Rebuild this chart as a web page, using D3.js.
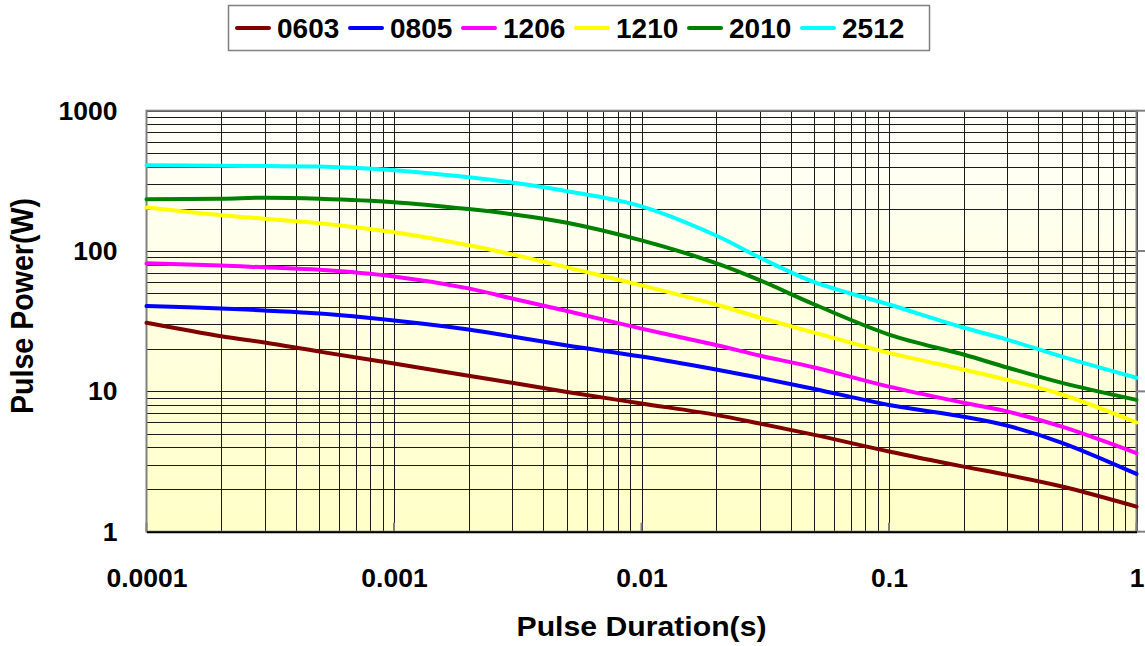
<!DOCTYPE html>
<html>
<head>
<meta charset="utf-8">
<script src="https://cdn.jsdelivr.net/npm/d3@7"></script>
<style>
  body { margin: 0; background: #fff; }
  text { font-family: "Liberation Sans", Arial, sans-serif; font-weight: bold; fill: #000; }
</style>
</head>
<body>
<svg id="chart" width="1145" height="646"></svg>
<script>
// pulse duration (s) at which the curves were read
const durations = [1e-4, 2e-4, 3e-4, 5e-4, 1e-3, 2e-3, 3e-3, 5e-3, 0.01, 0.02, 0.03, 0.05, 0.1, 0.2, 0.3, 0.5, 1];

// pulse power (W) per chip size
const p0603 = [30.8, 24.7, 22.3, 19.2, 15.8, 12.9, 11.5, 9.9, 8.2, 6.8, 5.9, 4.9, 3.73, 2.91, 2.54, 2.10, 1.51];
const p0805 = [40.5, 39, 37.7, 35.9, 32.0, 27.6, 24.6, 21.2, 17.7, 14.3, 12.5, 10.4, 8.0, 6.6, 5.7, 4.3, 2.58];
const p1206 = [81.7, 79, 76.5, 73.5, 65.9, 54.2, 45.9, 37.4, 28.0, 21.4, 18.0, 14.8, 10.8, 8.3, 7.2, 5.6, 3.63];
const p1210 = [204, 180, 170, 158, 136, 110, 94.7, 76.5, 56.9, 41.6, 33.6, 26.2, 18.8, 14.3, 12.1, 9.5, 6.0];
const p2010 = [234, 236, 240, 236, 223, 199, 183, 159, 119, 82, 62, 41.6, 25.4, 18.3, 14.8, 11.5, 8.7];
const p2512 = [409, 406, 403, 400, 377, 336, 308, 267, 208, 129, 90, 60, 41.6, 28.5, 23.4, 17.7, 12.5];

const seriesNames = ['0603', '0805', '1206', '1210', '2010', '2512'];
const seriesColors = ['#800000', '#0000ff', '#ff00ff', '#ffff00', '#008000', '#00ffff'];
const seriesValues = [p0603, p0805, p1206, p1210, p2010, p2512];

const xTicks = [1e-4, 1e-3, 1e-2, 1e-1, 1];
const xTickLabels = ['0.0001', '0.001', '0.01', '0.1', '1'];
const yTicks = [1, 10, 100, 1000];
const yTickLabels = ['1', '10', '100', '1000'];

const svg = d3.select('#chart');
const plotL = 146.5, plotR = 1136.5, plotT = 110.7, plotB = 531.7;

const x = d3.scaleLog().domain([1e-4, 1]).range([plotL, plotR]);
const y = d3.scaleLog().domain([1, 1000]).range([plotB, plotT]);

// background gradient
const grad = svg.append('defs').append('linearGradient')
    .attr('id', 'bg').attr('x1', 0).attr('y1', 0).attr('x2', 0).attr('y2', 1);
grad.append('stop').attr('offset', '0%').attr('stop-color', '#fffffb');
grad.append('stop').attr('offset', '100%').attr('stop-color', '#ffffc8');

svg.append('rect')
    .attr('x', plotL).attr('y', plotT)
    .attr('width', plotR - plotL).attr('height', plotB - plotT)
    .attr('fill', 'url(#bg)');

// log grid (1..9 per decade)
const xGrid = [], yGrid = [];
for (let e = -4; e < 0; e++) for (let k = 2; k <= 10; k++) xGrid.push(k * Math.pow(10, e));
for (let e = 0; e < 3; e++) for (let k = 2; k <= 10; k++) yGrid.push(k * Math.pow(10, e));

const grid = svg.append('g').attr('stroke', '#1a1a1a').attr('stroke-width', 1);
grid.selectAll('line.v').data(xGrid).enter().append('line')
    .attr('class', 'v')
    .attr('x1', d => Math.round(x(d)) + 0.5).attr('x2', d => Math.round(x(d)) + 0.5)
    .attr('y1', plotT).attr('y2', plotB);
grid.selectAll('line.h').data(yGrid).enter().append('line')
    .attr('class', 'h')
    .attr('y1', d => Math.round(y(d)) + 0.5).attr('y2', d => Math.round(y(d)) + 0.5)
    .attr('x1', plotL).attr('x2', plotR);

// plot frame
svg.append('rect')
    .attr('x', plotL).attr('y', plotT)
    .attr('width', plotR - plotL).attr('height', plotB - plotT)
    .attr('fill', 'none').attr('stroke', '#808080').attr('stroke-width', 2);

// small ticks: outward on the right, inward on the bottom
svg.append('g').selectAll('line').data(yTicks).enter().append('line')
    .attr('x1', plotR).attr('x2', plotR + 9)
    .attr('y1', d => y(d)).attr('y2', d => y(d))
    .attr('stroke', '#808080').attr('stroke-width', 2);
svg.append('g').selectAll('line').data(xTicks).enter().append('line')
    .attr('x1', d => x(d)).attr('x2', d => x(d))
    .attr('y1', plotB - 9).attr('y2', plotB)
    .attr('stroke', '#808080').attr('stroke-width', 2);

// axes
const xAxis = svg.append('g')
    .attr('transform', `translate(0,${plotB})`)
    .call(d3.axisBottom(x).tickValues(xTicks).tickFormat((d, i) => xTickLabels[i]).tickSize(0).tickPadding(36));
xAxis.select('.domain').attr('stroke', '#000').attr('stroke-width', 2);
xAxis.selectAll('text').style('font-size', '26.5px');

const yAxis = svg.append('g')
    .attr('transform', `translate(${plotL},0)`)
    .call(d3.axisLeft(y).tickValues(yTicks).tickFormat((d, i) => yTickLabels[i]).tickSize(0).tickPadding(29));
yAxis.select('.domain').remove();
yAxis.selectAll('text').style('font-size', '26.5px');

// curves
const line = d3.line()
    .x(d => x(d[0]))
    .y(d => y(d[1]))
    .curve(d3.curveCatmullRom.alpha(0.5));

svg.append('g').selectAll('path')
    .data(seriesValues)
    .enter()
    .append('path')
    .attr('d', vals => line(vals.map((v, i) => [durations[i], v])))
    .attr('fill', 'none')
    .attr('stroke', (d, i) => seriesColors[i])
    .attr('stroke-width', 4)
    .attr('stroke-linecap', 'round');

// axis titles
svg.append('text')
    .attr('x', (plotL + plotR) / 2).attr('y', 636)
    .attr('text-anchor', 'middle')
    .attr('textLength', 250)
    .attr('lengthAdjust', 'spacingAndGlyphs')
    .style('font-size', '28px')
    .text('Pulse Duration(s)');

svg.append('text')
    .attr('transform', 'translate(33,306) rotate(-90)')
    .attr('text-anchor', 'middle')
    .attr('textLength', 216)
    .attr('lengthAdjust', 'spacingAndGlyphs')
    .style('font-size', '32px')
    .text('Pulse Power(W)');

// legend
const legend = svg.append('g');
legend.append('rect')
    .attr('x', 228.5).attr('y', 5.5).attr('width', 701).attr('height', 45)
    .attr('fill', '#fff').attr('stroke', '#808080').attr('stroke-width', 1.5);

const items = legend.selectAll('g.item')
    .data(seriesNames)
    .enter()
    .append('g')
    .attr('class', 'item')
    .attr('transform', (d, i) => `translate(${237 + i * 113},28)`);
items.append('line')
    .attr('x1', 0).attr('x2', 32).attr('y1', 0).attr('y2', 0)
    .attr('stroke', (d, i) => seriesColors[i])
    .attr('stroke-width', 4)
    .attr('stroke-linecap', 'round');
items.append('text')
    .attr('x', 40).attr('dy', '0.36em')
    .style('font-size', '28px')
    .text(d => d);
</script>
</body>
</html>
